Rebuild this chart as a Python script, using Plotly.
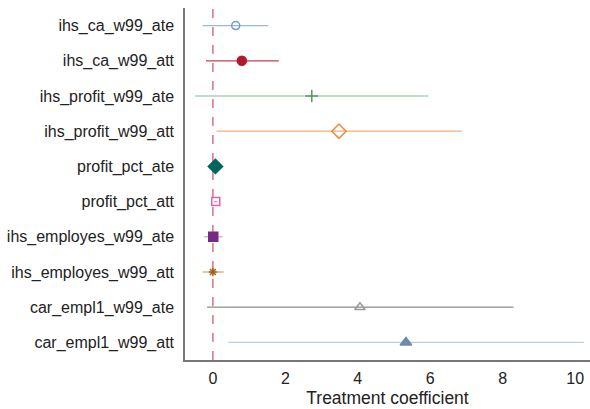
import plotly.graph_objects as go

labels = ["ihs_ca_w99_ate", "ihs_ca_w99_att", "ihs_profit_w99_ate", "ihs_profit_w99_att",
          "profit_pct_ate", "profit_pct_att", "ihs_employes_w99_ate", "ihs_employes_w99_att",
          "car_empl1_w99_ate", "car_empl1_w99_att"]
coef = [0.63, 0.80, 2.73, 3.48, 0.07, 0.08, 0.01, 0.00, 4.06, 5.33]
ci_low = [-0.28, -0.19, -0.49, 0.10, 0.03, 0.03, -0.25, -0.28, -0.16, 0.42]
ci_high = [1.53, 1.82, 5.95, 6.87, 0.11, 0.13, 0.27, 0.30, 8.30, 10.25]

marker_symbols = ["circle-open", "circle", "cross-thin-open", "diamond-open", "diamond",
                  "square-open", "square", "asterisk-open", "triangle-up-open", "triangle-up"]
marker_colors = ["#6a9bd1", "#b2182b", "#4f9a5f", "#f08a3c", "#00665e",
                 "#e064a8", "#762a83", "#a6611a", "#999999", "#6d8bab"]
line_colors = ["#9ab9e0", "#c0404f", "#7fbf8c", "#f6ae7a", "#00665e",
               "#e88cc0", "#c2a5cf", "#d2a070", "#8c8c8c", "#bccfe2"]
marker_sizes = [8, 9, 9, 11, 11, 8, 9, 7, 9, 10]

n = len(labels)
ypos = list(range(1, n + 1))

fig = go.Figure()
fig.add_shape(type="line", x0=0, x1=0, xref="x", y0=0, y1=1, yref="paper",
              line=dict(color="#d9727f", width=1.5, dash="dash"), layer="below")

for i in range(n):
    fig.add_trace(go.Scatter(
        x=[coef[i]], y=[ypos[i]], mode="markers",
        marker=dict(symbol=marker_symbols[i], color=marker_colors[i], size=marker_sizes[i],
                    line=dict(color=marker_colors[i], width=1.5)),
        error_x=dict(type="data", symmetric=False,
                     array=[ci_high[i] - coef[i]], arrayminus=[coef[i] - ci_low[i]],
                     color=line_colors[i], thickness=1.2, width=0),
        showlegend=False))

fig.update_layout(
    width=590, height=409,
    margin=dict(l=185, r=0, t=8, b=49),
    paper_bgcolor="white", plot_bgcolor="white",
    font=dict(family="Liberation Sans, Arial, sans-serif", size=16, color="#222"),
    xaxis=dict(range=[-0.77, 10.41], tickvals=[0, 2, 4, 6, 8, 10], showgrid=False,
               zeroline=False, showline=True, linecolor="#777", linewidth=1.5,
               ticks="", ticklabelstandoff=3,
               title=dict(text="Treatment coefficient", standoff=6,
                          font=dict(size=17.5))),
    yaxis=dict(range=[10.5, 0.5], tickvals=ypos, ticktext=labels, showgrid=False,
               zeroline=False, showline=True, linecolor="#777", linewidth=1.5,
               ticks="", ticklabelstandoff=6),
)

fig.write_html("out.html")
